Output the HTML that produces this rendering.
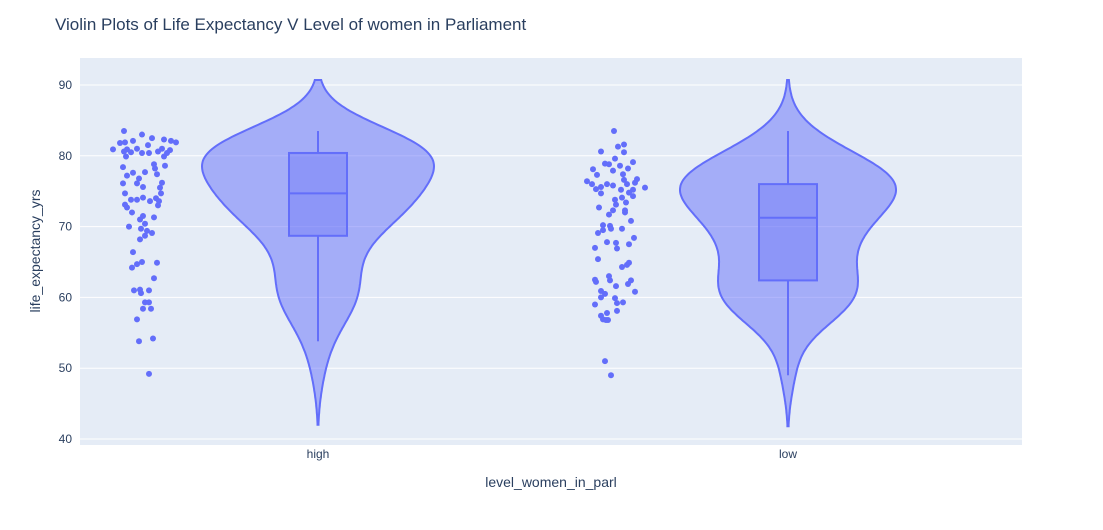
<!DOCTYPE html>
<html><head><meta charset="utf-8"><style>
body{margin:0;background:#fff;font-family:"Liberation Sans",Arial,sans-serif}
svg text{font-family:"Liberation Sans",Arial,sans-serif;fill:#2a3f5f}
</style></head><body>
<svg id="chart" width="1103" height="525" xmlns="http://www.w3.org/2000/svg">
<rect x="0" y="0" width="1103" height="525" fill="#fff"/>
<rect x="80" y="58" width="942" height="387" fill="#e5ecf6"/>
<g id="grid"></g><g id="marks"></g><g id="axes"></g>
<text x="55" y="30" font-size="17">Violin Plots of Life Expectancy V Level of women in Parliament</text>
<text x="551" y="487" font-size="14" text-anchor="middle">level_women_in_parl</text>
<text transform="translate(40,251) rotate(-90)" font-size="14" text-anchor="middle">life_expectancy_yrs</text>
</svg>
<script>
const categories=["high","low"];
const yTicks=[40,50,60,70,80,90];
const highValues=[83.5,83.0,82.5,81.8,81.9,82.1,82.3,82.1,81.9,80.9,80.6,80.9,80.5,81.0,80.4,81.5,80.4,80.6,81.0,80.8,80.4,79.9,79.9,78.4,78.8,78.2,78.6,77.6,77.7,77.2,77.4,76.8,76.1,76.1,75.6,76.2,75.5,74.7,74.7,74.1,73.8,73.8,73.6,74.0,73.6,73.1,72.7,73.0,72.0,71.5,71.0,71.3,70.4,70.0,69.7,69.4,69.1,68.7,68.2,66.4,64.9,65.0,64.7,64.2,62.7,61.0,61.1,60.6,61.0,59.3,59.3,58.4,58.4,56.9,53.8,54.2,49.2];
const highJitter=[-21,-3,7,-25,-20,-12,19,26,31,-32,-21,-18,-14,-8,-3,3,4,13,17,25,22,-19,19,-22,9,10,20,-12,0,-18,12,-6,-22,-8,-2,17,15,-20,16,-2,-14,-8,5,11,14,-20,-18,13,-13,-2,-5,9,0,-16,-4,2,7,0,-5,-12,12,-3,-8,-13,9,-11,-5,-4,4,0,4,-2,6,-8,-6,8,4];
const lowValues=[83.5,81.3,81.6,80.5,80.6,79.6,78.9,78.8,78.6,79.1,78.1,77.9,78.2,77.3,77.4,76.4,76.0,75.3,75.6,74.7,76.0,75.8,76.6,76.0,75.2,74.8,75.2,76.7,76.2,74.3,75.5,73.8,74.1,73.4,73.1,72.7,72.3,71.7,72.3,72.0,70.8,70.2,70.1,69.5,69.7,69.1,69.7,68.4,67.0,67.8,67.7,66.9,67.5,65.4,64.3,64.6,64.9,62.5,62.2,63.0,62.4,61.6,61.9,62.4,60.9,60.5,60.0,60.8,59.9,59.2,59.3,59.0,57.4,57.8,56.9,56.8,56.8,58.1,51.0,49.0];
const lowJitter=[-1,3,9,9,-14,0,-10,-6,5,18,-22,-2,13,-18,8,-28,-23,-19,-14,-14,-8,-2,9,12,6,14,18,22,20,18,30,0,7,11,1,-16,-2,-6,10,10,16,-12,-5,-12,-4,-17,7,19,-20,-8,1,2,14,-17,7,12,14,-20,-19,-6,-5,1,13,16,-14,-10,-14,20,0,2,8,-20,-14,-8,-12,-9,-7,2,-10,-4];
const NS="http://www.w3.org/2000/svg";
const yS=v=>85+(90-v)*7.08;
const xS=i=>83+(i+0.5)*470;
function mk(tag,attrs,parent){const e=document.createElementNS(NS,tag);for(const k in attrs)e.setAttribute(k,attrs[k]);parent.appendChild(e);return e;}
const grid=document.getElementById('grid'),marks=document.getElementById('marks'),axes=document.getElementById('axes');
yTicks.forEach(t=>{
  const l=mk('line',{x1:80,x2:1022,y1:yS(t),y2:yS(t),stroke:'#fff','stroke-width':1},grid);
  
  
  const tx=mk('text',{x:72,y:yS(t)+4,'font-size':12,'text-anchor':'end'},axes);
  tx.textContent=t;
  
  
});
categories.forEach((c,i)=>{
  const tx=mk('text',{x:xS(i),y:458,'font-size':12,'text-anchor':'middle'},axes);
  tx.textContent=c;
  
  
});
function quant(s,p){const pos=(s.length-1)*p,lo=Math.floor(pos),hi=Math.ceil(pos);return s[lo]+(s[hi]-s[lo])*(pos-lo);}
const series=[[highValues,highJitter],[lowValues,lowJitter]];
const halfWidths=[116,108];
series.forEach(([vals,jit],i)=>{
  const cx=xS(i),name=categories[i];
  const bw=3.6,lo=Math.min(...vals)-2*bw,hi=Math.max(...vals)+2*bw;
  const pts=[];let mx=0;
  for(let k=0;k<=200;k++){const y=lo+(hi-lo)*k/200;let d=0;vals.forEach(v=>{const z=(y-v)/bw;d+=Math.exp(-0.5*z*z);});pts.push([y,d]);if(d>mx)mx=d;}
  const hw=halfWidths[i];
  let dStr='M'+pts.map(p=>(cx+p[1]/mx*hw).toFixed(1)+','+yS(p[0]).toFixed(1)).join('L');
  dStr+='L'+pts.slice().reverse().map(p=>(cx-p[1]/mx*hw).toFixed(1)+','+yS(p[0]).toFixed(1)).join('L')+'Z';
  const vp=mk('path',{d:dStr,fill:'rgba(99,110,250,0.5)',stroke:'#636efa','stroke-width':2},marks);
  
  
  const s=vals.slice().sort((a,b)=>a-b);
  const q1=quant(s,0.25),q3=quant(s,0.75),med=quant(s,0.5),iqr=q3-q1;
  const wl=s.find(v=>v>=q1-1.5*iqr),wh=s.slice().reverse().find(v=>v<=q3+1.5*iqr);
  const w1=mk('line',{x1:cx,x2:cx,y1:yS(wh),y2:yS(q3),stroke:'#636efa','stroke-width':2},marks);
  
  
  const w2=mk('line',{x1:cx,x2:cx,y1:yS(q1),y2:yS(wl),stroke:'#636efa','stroke-width':2},marks);
  
  
  const bx=mk('rect',{x:cx-29,y:yS(q3),width:58,height:yS(q1)-yS(q3),fill:'rgba(99,110,250,0.35)',stroke:'#636efa','stroke-width':2},marks);
  
  
  const ml=mk('line',{x1:cx-29,x2:cx+29,y1:yS(med),y2:yS(med),stroke:'#636efa','stroke-width':2},marks);
  
  
  const pcx=cx-173;
  vals.forEach((v,k)=>{
    const c=mk('circle',{cx:pcx+jit[k],cy:yS(v),r:3,fill:'#636efa'},marks);
    
    
  });
});
</script>
</body></html>
